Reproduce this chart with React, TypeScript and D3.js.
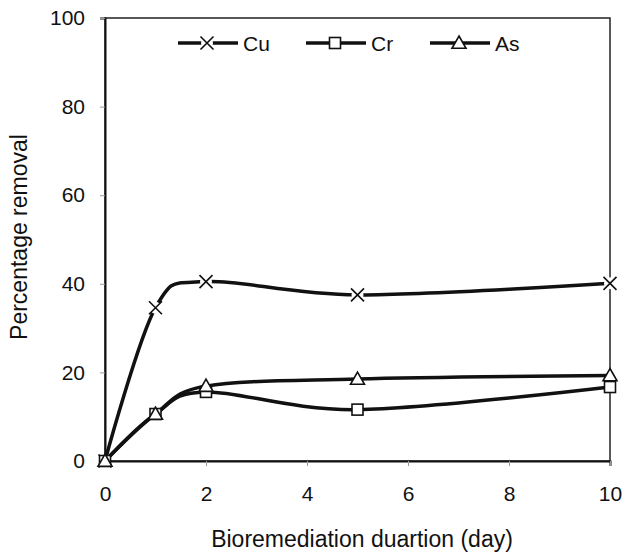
import React, { useEffect, useRef } from 'react';
import * as d3 from 'd3';

// days of bioremediation
const days = [0, 1, 2, 5, 10];
// percentage removal per metal
const cuValues = [0, 34.6, 40.5, 37.5, 40.1];
const crValues = [0, 10.6, 15.6, 11.6, 16.7];
const asValues = [0, 10.6, 16.9, 18.5, 19.3];

const xTicks = [0, 2, 4, 6, 8, 10];
const yTicks = [0, 20, 40, 60, 80, 100];

const seriesNames = ['Cu', 'Cr', 'As'];

const W = 625;
const H = 552;
const FONT = 'Liberation Sans, Arial, sans-serif';

function drawMarker(g: any, kind: string, x: number, y: number) {
  if (kind === 'Cu') {
    g.append('circle').attr('cx', x).attr('cy', y).attr('r', 6).attr('fill', '#fff');
    const s = 6.5;
    g.append('path')
      .attr('d', `M${x - s},${y - s}L${x + s},${y + s}M${x - s},${y + s}L${x + s},${y - s}`)
      .attr('stroke', '#111')
      .attr('stroke-width', 1.6)
      .attr('fill', 'none');
  } else if (kind === 'Cr') {
    g.append('rect')
      .attr('x', x - 5.5).attr('y', y - 5.5)
      .attr('width', 11).attr('height', 11)
      .attr('fill', '#fff').attr('stroke', '#111').attr('stroke-width', 1.6);
  } else {
    const s = 7;
    g.append('path')
      .attr('d', `M${x},${y - s}L${x + s},${y + s * 0.75}L${x - s},${y + s * 0.75}Z`)
      .attr('fill', '#fff').attr('stroke', '#111').attr('stroke-width', 1.6);
  }
}

export default function App() {
  const ref = useRef<SVGSVGElement>(null);

  useEffect(() => {
    const svg = d3.select(ref.current);
    svg.selectAll('*').remove();

    const x = d3.scaleLinear().domain([0, 10]).range([105, 610]);
    const y = d3.scaleLinear().domain([0, 100]).range([461, 18]);

    // frame
    svg.append('rect')
      .attr('x', x(0)).attr('y', y(100))
      .attr('width', x(10) - x(0)).attr('height', y(0) - y(100))
      .attr('fill', 'none').attr('stroke', '#222').attr('stroke-width', 1.5);

    const xAxis = d3.axisBottom(x).tickValues(xTicks).tickSize(5).tickPadding(20).tickFormat(d3.format('d'));
    const gx = svg.append('g').attr('transform', `translate(0,${y(0)})`).call(xAxis);
    gx.select('.domain').attr('stroke', '#111').attr('stroke-width', 2);
    gx.selectAll('.tick line').attr('stroke', '#999');
    gx.selectAll('text').attr('font-size', 21).attr('font-family', FONT).attr('fill', '#111');

    const yAxis = d3.axisLeft(y).tickValues(yTicks).tickSize(5).tickPadding(15).tickFormat(d3.format('d'));
    const gy = svg.append('g').attr('transform', `translate(${x(0)},0)`).call(yAxis);
    gy.select('.domain').attr('stroke', '#111').attr('stroke-width', 2);
    gy.selectAll('.tick line').attr('stroke', '#999');
    gy.selectAll('text').attr('font-size', 21).attr('font-family', FONT).attr('fill', '#111');

    // axis titles
    svg.append('text')
      .attr('x', 362).attr('y', 547)
      .attr('text-anchor', 'middle')
      .attr('font-size', 23).attr('font-family', FONT).attr('fill', '#111')
      .text('Bioremediation duartion (day)');
    svg.append('text')
      .attr('transform', `translate(27,237) rotate(-90)`)
      .attr('text-anchor', 'middle')
      .attr('font-size', 23).attr('font-family', FONT).attr('fill', '#111')
      .text('Percentage removal');

    const all = [cuValues, crValues, asValues];
    const line = d3.line<number>()
      .x((_, i) => x(days[i]))
      .y(d => y(d))
      .curve(d3.curveCatmullRom.alpha(0));

    all.forEach(vals => {
      svg.append('path')
        .attr('d', line(vals))
        .attr('fill', 'none')
        .attr('stroke', '#111')
        .attr('stroke-width', 3.5)
        .attr('stroke-linejoin', 'round');
    });

    const mg = svg.append('g');
    all.forEach((vals, si) => {
      vals.forEach((v, i) => drawMarker(mg, seriesNames[si], x(days[i]), y(v)));
    });

    // legend
    const legendX = [178, 306, 430];
    const lg = svg.append('g');
    seriesNames.forEach((name, i) => {
      const lx = legendX[i];
      const ly = 43;
      lg.append('line')
        .attr('x1', lx).attr('x2', lx + 60).attr('y1', ly).attr('y2', ly)
        .attr('stroke', '#111').attr('stroke-width', 3.5);
      drawMarker(lg, name, lx + 29, ly);
      lg.append('text')
        .attr('x', lx + 65).attr('y', ly + 7.5)
        .attr('font-size', 21).attr('font-family', FONT).attr('fill', '#111')
        .text(name);
    });
  }, []);

  return (
    <svg
      ref={ref}
      width={W}
      height={H}
      style={{ position: 'absolute', left: 0, top: 0, background: '#fff', display: 'block' }}
    />
  );
}
